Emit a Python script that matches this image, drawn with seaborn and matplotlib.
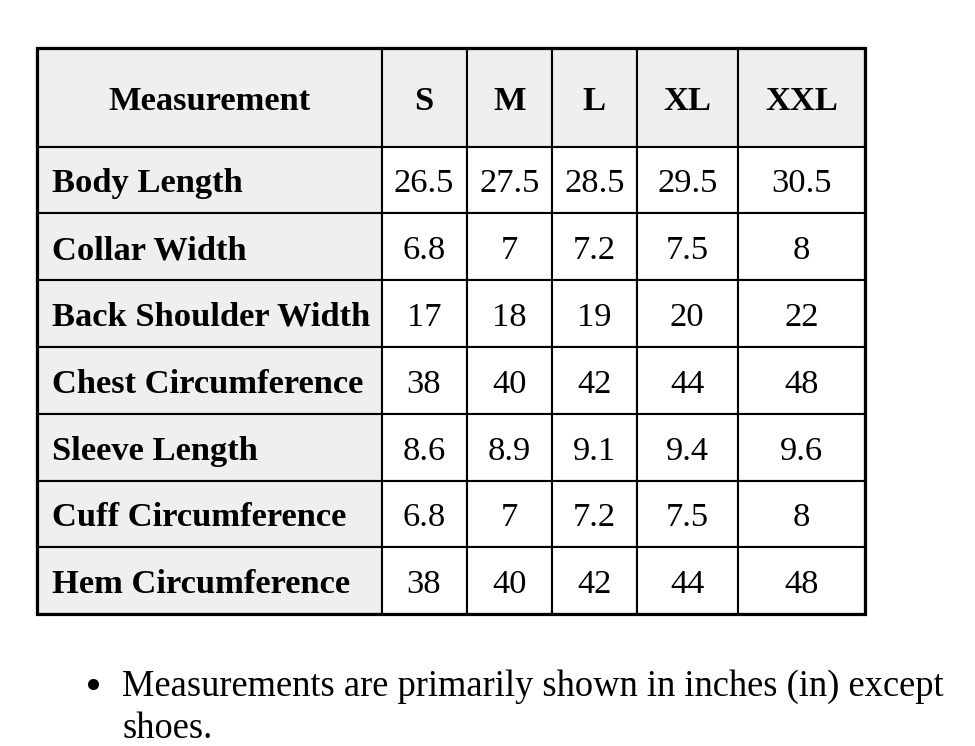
import numpy as np
import pandas as pd
import matplotlib.pyplot as plt
from matplotlib.patches import Rectangle
import seaborn as sns

sizes = ["S", "M", "L", "XL", "XXL"]
measurements = ["Body Length", "Collar Width", "Back Shoulder Width",
                "Chest Circumference", "Sleeve Length", "Cuff Circumference",
                "Hem Circumference"]
body_length = ["26.5", "27.5", "28.5", "29.5", "30.5"]
collar_width = ["6.8", "7", "7.2", "7.5", "8"]
back_shoulder = ["17", "18", "19", "20", "22"]
chest_circ = ["38", "40", "42", "44", "48"]
sleeve_length = ["8.6", "8.9", "9.1", "9.4", "9.6"]
cuff_circ = ["6.8", "7", "7.2", "7.5", "8"]
hem_circ = ["38", "40", "42", "44", "48"]
note_lines = ["Measurements are primarily shown in inches (in) except", "shoes."]

df = pd.DataFrame([body_length, collar_width, back_shoulder, chest_circ,
                   sleeve_length, cuff_circ, hem_circ],
                  index=measurements, columns=sizes)

sns.set_theme(style="white")
plt.rcParams['font.family'] = ['Liberation Serif', 'DejaVu Serif']

fig = plt.figure(figsize=(9.75, 7.46), dpi=100)
ax = fig.add_axes([0, 0, 1, 1])
ax.set_xlim(0, 975)
ax.set_ylim(746, 0)
ax.axis("off")

# table layout in pixels
col_edges = np.array([37, 381.5, 466.5, 552, 636.5, 738, 865])
row_edges = np.array([48, 146.5] + [146.5 + 66.8 * (i + 1) for i in range(7)])
gray = "#efefef"
fs = 24.8

n_rows = len(row_edges) - 1
n_cols = len(col_edges) - 1
for r in range(n_rows):
    for c in range(n_cols):
        x0, x1 = col_edges[c], col_edges[c + 1]
        y0, y1 = row_edges[r], row_edges[r + 1]
        face = gray if (r == 0 or c == 0) else "white"
        ax.add_patch(Rectangle((x0, y0), x1 - x0, y1 - y0, facecolor=face,
                               edgecolor="black", linewidth=1.5, zorder=1))
        yb = (y0 + y1) / 2 + 12.5
        if r == 0:
            label = "Measurement" if c == 0 else df.columns[c - 1]
            ax.text((x0 + x1) / 2, yb, label, ha="center", va="baseline",
                    fontsize=fs, fontweight="bold", color="black")
        elif c == 0:
            ax.text(x0 + 15, yb, df.index[r - 1], ha="left", va="baseline",
                    fontsize=fs, fontweight="bold", color="black")
        else:
            ax.text((x0 + x1) / 2, yb, df.iloc[r - 1, c - 1], ha="center",
                    va="baseline", fontsize=fs, color="black")

# thick outer border
ax.add_patch(Rectangle((col_edges[0], row_edges[0]), col_edges[-1] - col_edges[0],
                       row_edges[-1] - row_edges[0], facecolor="none",
                       edgecolor="black", linewidth=2.3, zorder=3))

# bullet note
ax.plot([93], [684], marker="o", markersize=7, color="black")
for i, line in enumerate(note_lines):
    ax.text(122, 696 + 42 * i, line, ha="left", va="baseline", fontsize=26.3,
            color="black")

fig.savefig("out.png", dpi=100)
